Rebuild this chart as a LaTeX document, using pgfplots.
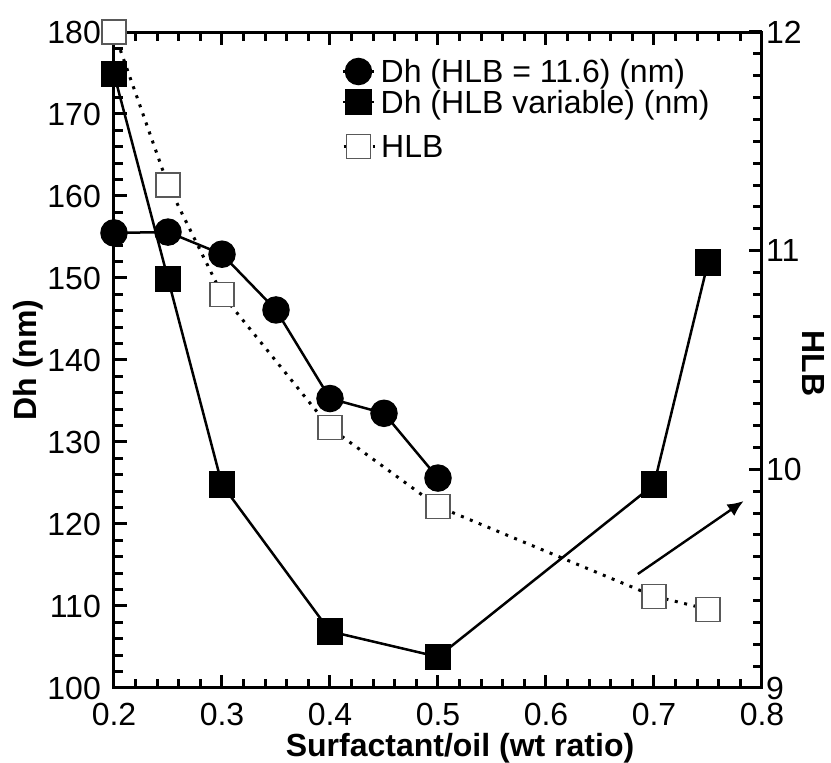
\documentclass[border=0pt]{standalone}
\usepackage{fontspec}
\setmainfont{Liberation Sans}
\usepackage{pgfplots}
\pgfplotsset{compat=1.18}
\usetikzlibrary{arrows.meta}
\pgfplotsset{
 common/.style={
  width=324pt,height=328pt,scale only axis,
  line width=1.5pt,
  font=\fontsize{16}{19}\selectfont,
  /pgf/number format/assume math mode=true,
  tick align=inside,
  major tick length=6.5pt, minor tick length=4.5pt,
  tick style={line width=1.5pt, black},
  axis line style={line width=1.5pt},
  clip=false,
  xmin=0.2,xmax=0.8,
 }
}
\begin{document}
\begin{tikzpicture}
\begin{axis}[common,
 ymin=100,ymax=180,
 xtick={0.2,0.3,0.4,0.5,0.6,0.7,0.8},
 xticklabels={0.2,0.3,0.4,0.5,0.6,0.7,0.8},
 minor x tick num=4,
 ytick={100,110,120,130,140,150,160,170,180},
 minor y tick num=4,
 ytick pos=left,
 xlabel={\bfseries Surfactant/oil (wt ratio)},
 ylabel={\bfseries Dh (nm)},
 xlabel style={at={(axis description cs:0.534,-0.0915)},anchor=center},
 ylabel style={at={(axis description cs:-0.133,0.5)},anchor=center},
 yticklabel style={xshift=-2.5pt},
 xticklabel style={yshift=-3.5pt},
 legend image code/.code={\draw[#1,mark repeat=2,mark phase=2] plot coordinates {(0pt,5.7pt)(7.5pt,5.7pt)(15.5pt,5.7pt)};},
 legend style={at={(axis description cs:0.3499,0.9121)},anchor=west,draw=none,fill=none,inner sep=0pt,
   nodes={inner sep=0pt, outer sep=0pt, text height=11pt, text depth=3.5pt, anchor=base west},
   row sep=0pt, column sep=2.5pt},
 legend cell align=left,
]
\addplot[black, line width=1.25pt, mark=*, mark size=6.25pt, mark options={solid}] coordinates {
 (0.2,155.5) (0.25,155.6) (0.3,152.9) (0.35,146.1) (0.4,135.3) (0.45,133.5) (0.5,125.6)
};
\addlegendentry{Dh (HLB = 11.6) (nm)}
\addplot[black, line width=1.25pt, mark=square*, mark size=6pt, mark options={solid}] coordinates {
 (0.2,174.9) (0.25,149.9) (0.3,124.8) (0.4,106.9) (0.5,103.8) (0.7,124.8) (0.75,151.9)
};
\addlegendentry{Dh (HLB variable) (nm)}
\draw[-{Latex[length=8pt,width=7pt]}, line width=1.2pt] (axis cs:0.685,113.9) -- (axis cs:0.783,122.8);
\end{axis}
\begin{axis}[common,
 ymin=9,ymax=12,
 hide x axis,
 axis y line*=right,
 ytick={9,10,11,12},
 minor y tick num=9,
 ylabel={\bfseries HLB},
 ylabel style={at={(axis description cs:1.079,0.495)},anchor=center,rotate=180},
 yticklabel style={xshift=-2pt},
 legend image code/.code={\draw[#1,mark repeat=2,mark phase=2] plot coordinates {(0pt,5.7pt)(7.5pt,5.7pt)(15.5pt,5.7pt)};},
 legend style={at={(axis description cs:0.3499,0.8207)},anchor=west,draw=none,fill=none,inner sep=0pt,
   nodes={inner sep=0pt, outer sep=0pt, text height=11pt, text depth=3.5pt, anchor=base west},
   column sep=2.5pt},
 legend cell align=left,
]
\addplot[black, line width=1.5pt, dash pattern=on 1.5pt off 3.3pt, mark=square*, mark size=6pt,
  mark options={solid, fill=white, draw=black!65, line width=0.6pt}] coordinates {
 (0.2,12.0) (0.25,11.30) (0.3,10.80) (0.4,10.19) (0.5,9.83) (0.7,9.42) (0.75,9.36)
};
\addlegendentry{HLB}
\end{axis}
\pgfresetboundingbox
\path[use as bounding box] (-57pt,-37.5pt) rectangle (358.5pt,344pt);
\end{tikzpicture}
\end{document}
